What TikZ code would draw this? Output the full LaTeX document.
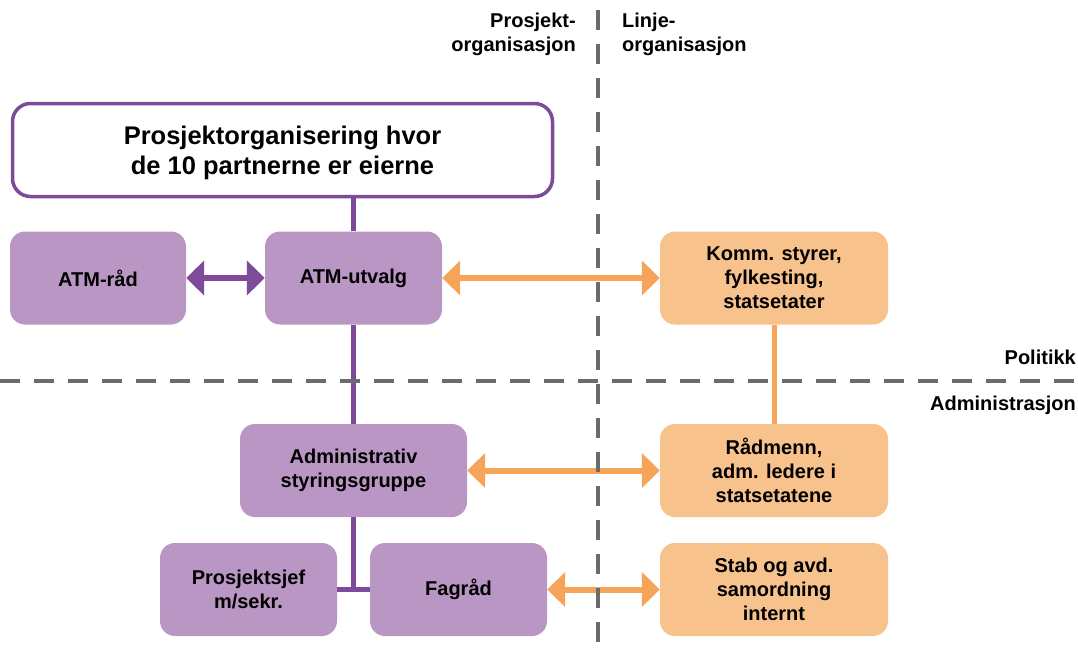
\documentclass[tikz,border=0pt]{standalone}
\usepackage{fontspec}
\setmainfont{Liberation Sans}
\usetikzlibrary{arrows.meta}
\definecolor{pfill}{HTML}{B996C3}
\definecolor{pline}{HTML}{7E4A9A}
\definecolor{ofill}{HTML}{F8C28D}
\definecolor{oline}{HTML}{F5A45A}
\definecolor{dgray}{HTML}{6B6B6B}
\begin{document}
\begin{tikzpicture}[x=1pt,y=-1pt,
  box/.style={rectangle,rounded corners=15pt,draw=none,align=center,
    font=\fontsize{20}{24}\selectfont\bfseries,inner sep=0pt},
  pbox/.style={box,fill=pfill},
  obox/.style={box,fill=ofill},
  pconn/.style={draw=pline,line width=5pt},
  oconn/.style={draw=oline,line width=5pt},
  parrow/.style={draw=pline,line width=6pt,{Triangle[length=18pt,width=34pt]}-{Triangle[length=18pt,width=34pt]}},
  oarrow/.style={draw=oline,line width=6pt,{Triangle[length=18pt,width=34pt]}-{Triangle[length=18pt,width=34pt]}},
  divider/.style={draw=dgray,line width=4pt,dash pattern=on 20pt off 14pt},
  lbl/.style={font=\fontsize{20}{24}\selectfont\bfseries,inner sep=0pt}
]
\useasboundingbox (0,0) rectangle (1078,656);
% boxes
\node[box,draw=pline,line width=3.5pt,fill=white,minimum width=540pt,minimum height=93pt,rounded corners=18pt] (top) at (282.5,150) {};
\node[font=\fontsize{25.5}{30}\selectfont\bfseries,align=center,inner sep=0pt] (toptext) at (282.5,153)
  {Prosjektorganisering hvor\\de 10 partnerne er eierne};
\node[pbox,minimum width=176pt,minimum height=93pt] (atmr) at (98,278) {ATM-råd};
\node[pbox,minimum width=177pt,minimum height=93pt] (atmu) at (353.5,278) {ATM-utvalg};
\node[obox,minimum width=228pt,minimum height=93pt] (komm) at (774,278) {Komm. styrer,\\fylkesting,\\statsetater};
\node[pbox,minimum width=227pt,minimum height=93pt] (adm) at (353.5,470.5) {Administrativ\\styringsgruppe};
\node[obox,minimum width=228pt,minimum height=93pt] (radm) at (774,470.5) {Rådmenn,\\adm. ledere i\\statsetatene};
\node[pbox,minimum width=177pt,minimum height=93pt] (psj) at (248.5,589.5) {Prosjektsjef\\m/sekr.};
\node[pbox,minimum width=177pt,minimum height=93pt] (fag) at (458.5,589.5) {Fagråd};
\node[obox,minimum width=228pt,minimum height=93pt] (stab) at (774,589.5) {Stab og avd.\\samordning\\internt};
\coordinate (j) at (353.5,589.5);
% connectors
\path[pconn] (atmu.north |- top.south) -- (atmu.north);
\path[pconn] (atmu.south) -- (adm.north);
\path[pconn] (adm.south) -- (j);
\path[pconn] (psj.east) -- (fag.west);
\path[oconn] (komm.south) -- (radm.north);
\path[parrow] (atmr.east) -- (atmu.west);
\path[oarrow] (atmu.east) -- (komm.west);
\path[oarrow] (adm.east) -- (radm.west);
\path[oarrow] (fag.east) -- (stab.west);
% dividers
\coordinate (vt) at (598,10);
\coordinate (vb) at (598,656);
\coordinate (hl) at (0,381);
\coordinate (hr) at (1078,381);
\path[divider] (vt) -- (vb);
\path[divider] (hl) -- (hr);
% labels
\node[lbl,anchor=north east,align=right] (lp) at (576,13) {Prosjekt-\\organisasjon};
\node[lbl,anchor=north west,align=left] (ll) at (622,13) {Linje-\\organisasjon};
\node[lbl,anchor=base east] (pol) at (1076,364) {Politikk};
\node[lbl,anchor=base east] (adml) at (1076,410) {Administrasjon};
\end{tikzpicture}
\end{document}
